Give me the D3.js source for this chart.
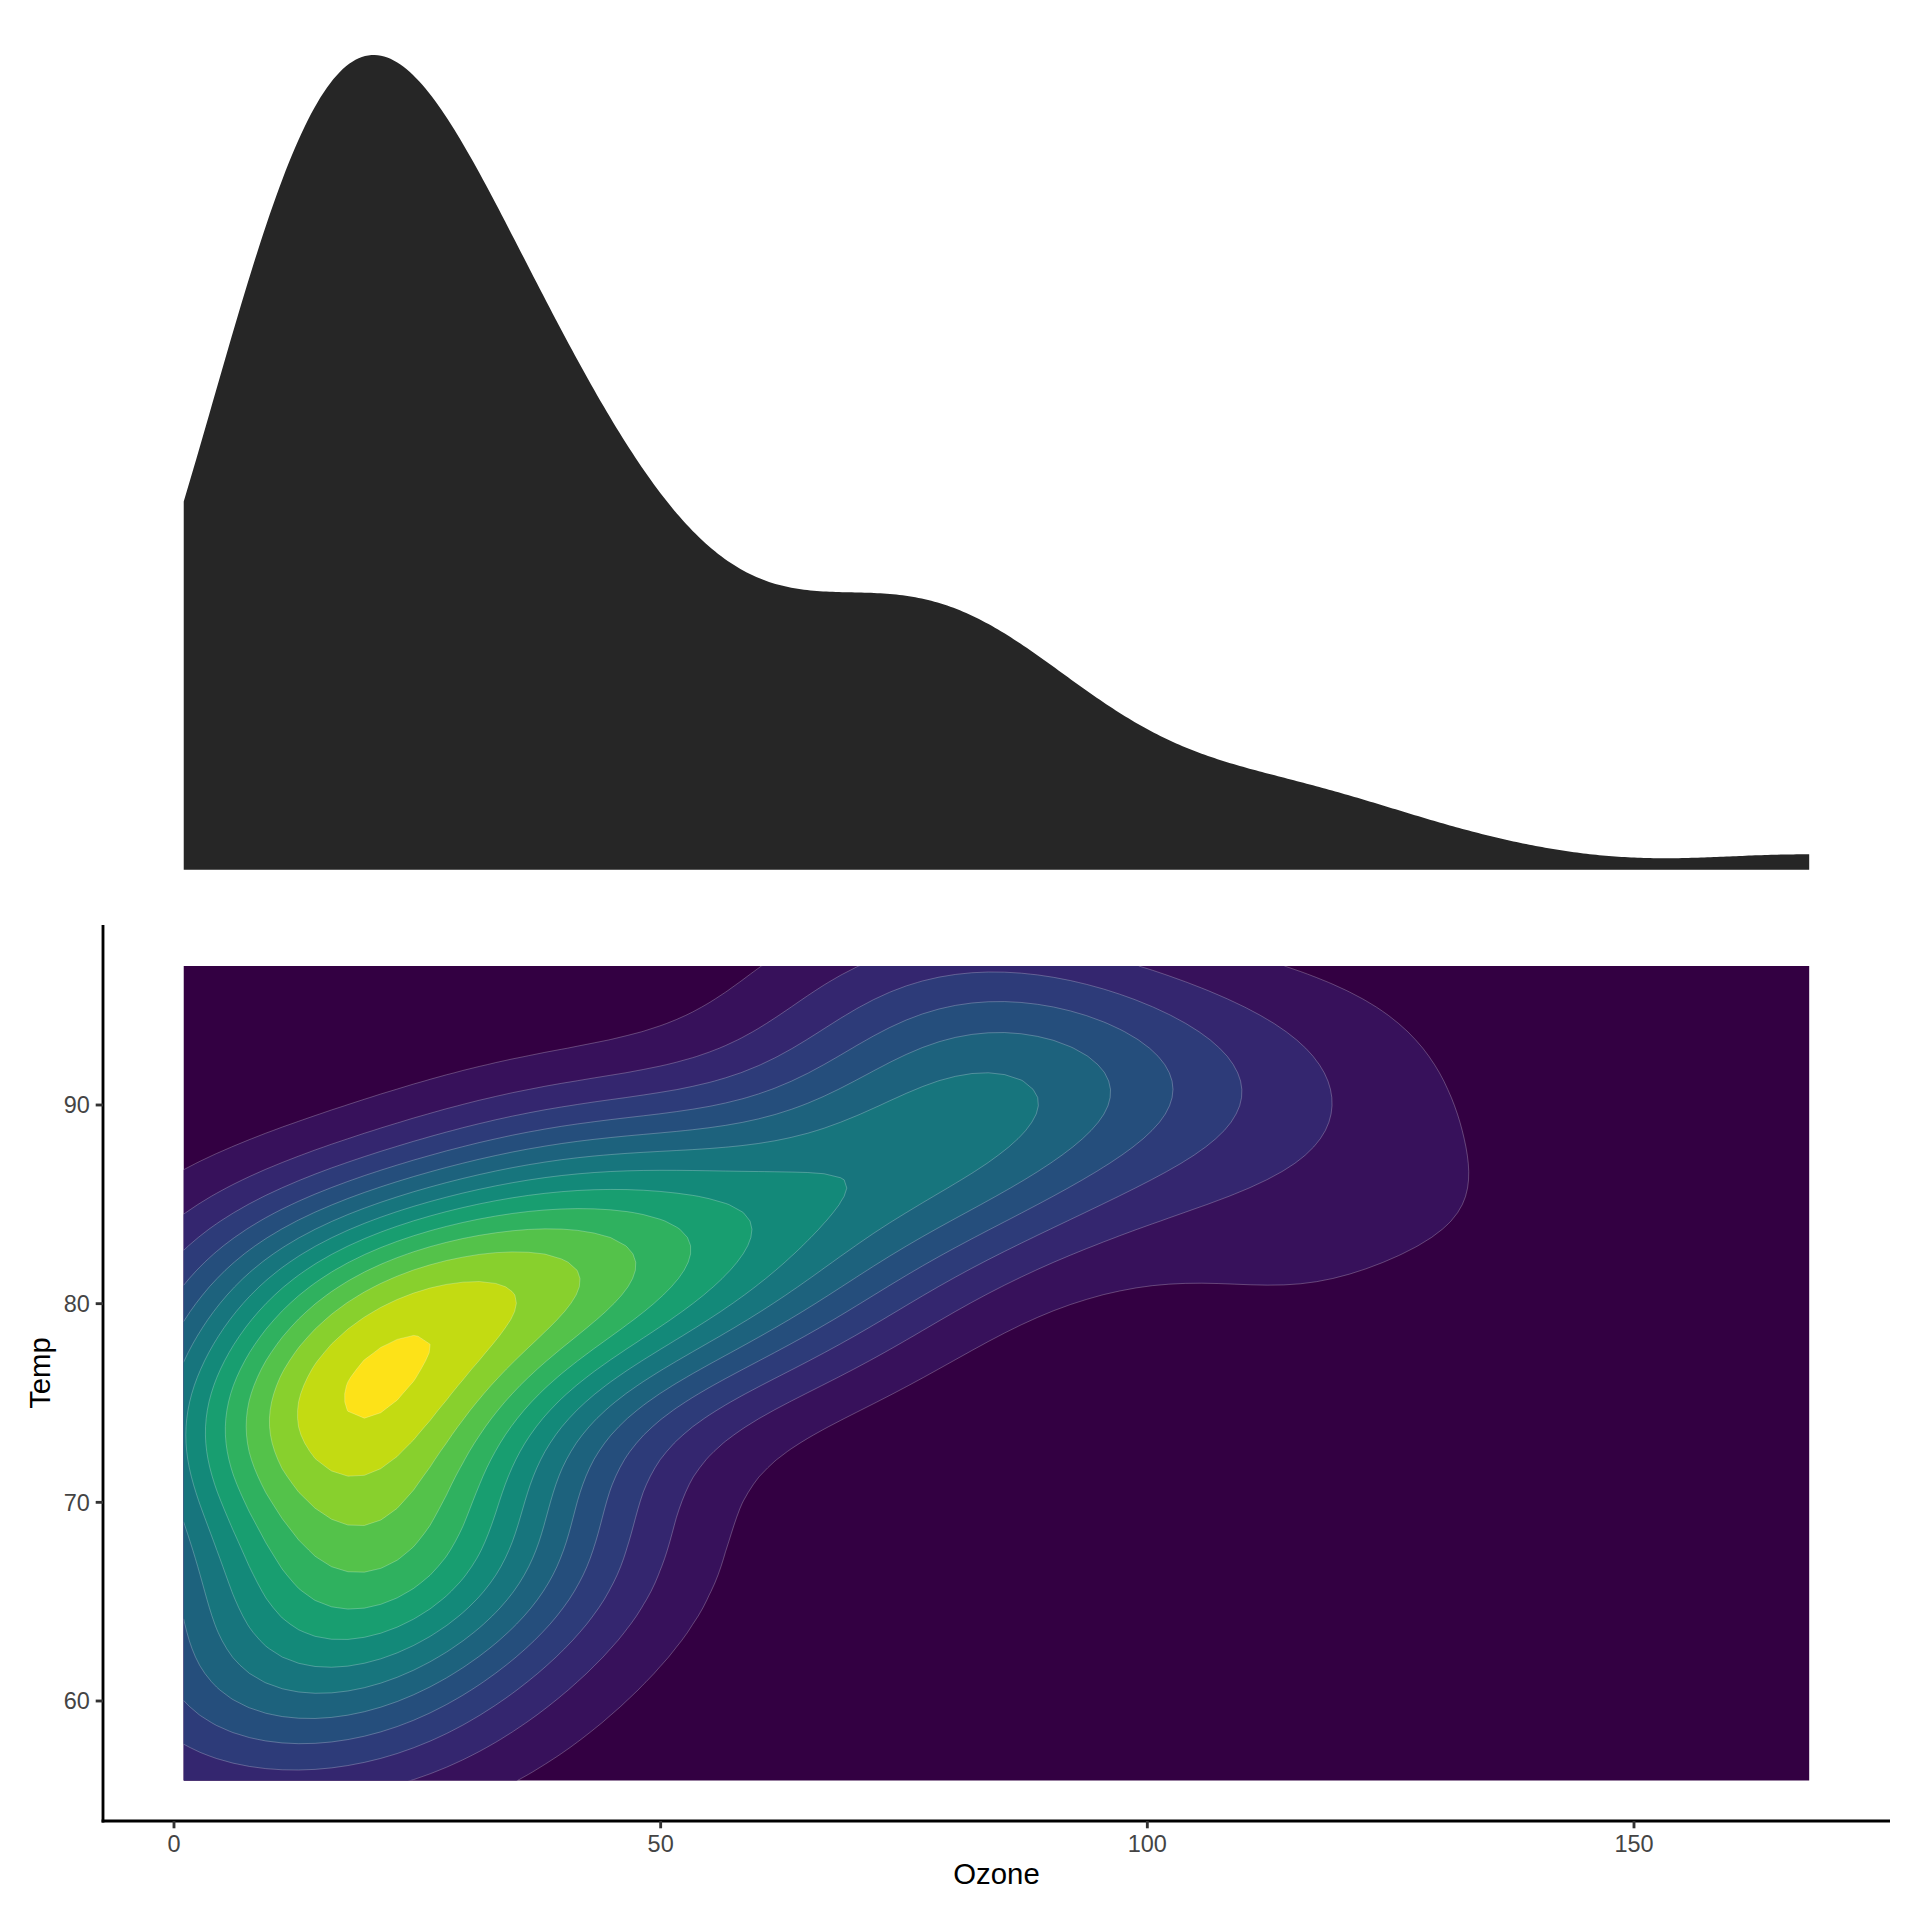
<!DOCTYPE html>
<html><head><meta charset="utf-8">
<script src="https://cdn.jsdelivr.net/npm/d3@7"></script>
<style>body{margin:0;background:#fff}svg{display:block}text{font-family:"Liberation Sans",Arial,Helvetica,sans-serif}</style>
</head><body><svg id="c" width="1920" height="1920"></svg>
<script>
// airquality: Ozone (null = NA) and Temp, 153 days
const ozone = [41,36,12,18,null,28,23,19,8,null,7,16,11,14,18,14,34,6,30,11,1,11,4,32,null,null,null,23,45,115,37,
null,null,null,null,null,null,29,null,71,39,null,null,23,null,null,21,37,20,12,13,null,null,null,null,null,null,null,null,null,null,
135,49,32,null,64,40,77,97,97,85,null,10,27,null,7,48,35,61,79,63,16,null,null,80,108,20,52,82,50,64,59,
39,9,16,78,35,66,122,89,110,null,null,44,28,65,null,22,59,23,31,44,21,9,null,45,168,73,null,76,118,84,85,
96,78,73,91,47,32,20,23,21,24,44,21,28,9,13,46,18,13,24,16,13,23,36,7,14,30,null,14,18,20];
const temp = [67,72,74,62,56,66,65,59,61,69,74,69,66,68,58,64,66,57,68,62,59,73,61,61,57,58,57,67,81,79,76,
78,74,67,84,85,79,82,87,90,87,93,92,82,80,79,77,72,65,73,76,77,76,76,76,75,78,73,80,77,83,
84,85,81,84,83,83,88,92,92,89,82,73,81,91,80,81,82,84,87,85,74,81,82,86,85,82,86,88,86,83,81,
81,81,82,86,85,87,89,90,90,92,86,86,82,80,79,77,79,76,78,78,77,72,75,79,81,86,88,97,94,96,94,
91,92,93,93,87,84,80,78,75,73,81,76,77,71,71,78,67,76,68,82,64,71,81,69,63,70,77,75,76,68];
const xTicks = [0, 50, 100, 150];
const yTicks = [60, 70, 80, 90];
const xLabel = "Ozone";
const yLabel = "Temp";

const svg = d3.select("#c");

// ---- stats helpers (as in R) ----
function q7(a, p){ const s=[...a].sort((u,v)=>u-v); const h=(s.length-1)*p, lo=Math.floor(h); const hi=Math.min(lo+1,s.length-1); return s[lo]+(h-lo)*(s[hi]-s[lo]); }
function iqr(a){ return q7(a,0.75)-q7(a,0.25); }
function bwNrd(a){ return 4*1.06*Math.min(d3.deviation(a), iqr(a)/1.34)*Math.pow(a.length,-0.2); }
function bwNrd0(a){ return 0.9*Math.min(d3.deviation(a), iqr(a)/1.34)*Math.pow(a.length,-0.2); }
function pretty(lo, up, ndiv){
  const h=1.5, h5=0.5+1.5*h; const min_n = Math.floor(ndiv/3);
  const dx=up-lo; let cell=Math.max(Math.abs(lo),Math.abs(up));
  let U = 1 + ((h5 >= 1.5*h+0.5) ? 1/(1+h) : 1.5/(1+h5)); U *= Math.max(1,ndiv)*Number.EPSILON;
  const small = dx < cell*U*3;
  if(small){ if(cell>10) cell = 9+cell/10; cell *= 0.75; if(min_n>1) cell/=min_n; }
  else { cell = dx; if(ndiv>1) cell/=ndiv; }
  const base = Math.pow(10, Math.floor(Math.log10(cell)));
  let unit = base, ns;
  if((ns=2*base)-cell < h*(cell-unit)){ unit=ns; if((ns=5*base)-cell < h5*(cell-unit)){ unit=ns; if((ns=10*base)-cell < h*(cell-unit)) unit=ns; } }
  let a = Math.floor(lo/unit+1e-7), b = Math.ceil(up/unit-1e-7);
  while(a*unit > lo+1e-10*unit) a--;
  while(b*unit < up-1e-10*unit) b++;
  let k = Math.floor(0.5+b-a);
  if(k<min_n){ k=min_n-k; if(a>=0){ b+=Math.floor(k/2); a-=Math.floor(k/2)+k%2; } else { a-=Math.floor(k/2); b+=Math.floor(k/2)+k%2; } }
  const out=[]; for(let i=a;i<=b;i++) out.push(i*unit); return out;
}
const dnorm = z => Math.exp(-0.5*z*z)/Math.sqrt(2*Math.PI);

// complete cases
const pts = ozone.map((o,i)=>[o,temp[i]]).filter(d=>d[0]!==null);
const px = pts.map(d=>d[0]), py = pts.map(d=>d[1]);
const xDom = d3.extent(ozone.filter(v=>v!==null));
const yDom = d3.extent(temp);

// ---- scales ----
const x = d3.scaleLinear().domain([0,150]).range([174, 1634]);
const y = d3.scaleLinear().domain([60,90]).range([1701, 1105]);

// ---- 2D density (kde2d, n = 100) ----
const N = 100;
const hx = bwNrd(px)/4, hy = bwNrd(py)/4;
const gx = d3.range(N).map(i=>xDom[0]+i*(xDom[1]-xDom[0])/(N-1));
const gy = d3.range(N).map(j=>yDom[0]+j*(yDom[1]-yDom[0])/(N-1));
const ax = gx.map(g=>px.map(v=>dnorm((g-v)/hx)));
const ay = gy.map(g=>py.map(v=>dnorm((g-v)/hy)));
const values = new Array(N*N);
for(let j=0;j<N;j++) for(let i=0;i<N;i++){
  let s=0; for(let k=0;k<px.length;k++) s+=ax[i][k]*ay[j][k];
  values[i+j*N] = s/(px.length*hx*hy);
}
const zr = d3.extent(values);
const breaks = pretty(zr[0], zr[1], 10);
const nLev = breaks.length-1;
// viridis palette, with the darker tone response seen in the reference image
const gam = 1.22;
const colors = d3.range(nLev).map(i=>{
  const c = d3.rgb(d3.interpolateViridis(nLev>1? i/(nLev-1) : 0));
  const f = v=>Math.round(255*Math.pow(v/255, gam));
  return d3.rgb(f(c.r), f(c.g), f(c.b)).formatHex();
});

const stepX = (xDom[1]-xDom[0])/(N-1), stepY = (yDom[1]-yDom[0])/(N-1);
const proj = d3.geoTransform({point(cx, cy){ this.stream.point(x(xDom[0]+(cx-0.5)*stepX), y(yDom[0]+(cy-0.5)*stepY)); }});
const path = d3.geoPath(proj);
const contours = d3.contours().size([N,N]).thresholds(breaks.slice(0,nLev))(values);

svg.append("clipPath").attr("id","panel").append("rect")
  .attr("x", x(xDom[0])).attr("y", y(yDom[1]))
  .attr("width", x(xDom[1])-x(xDom[0])).attr("height", y(yDom[0])-y(yDom[1]));
const g = svg.append("g").attr("clip-path","url(#panel)");
g.selectAll("path").data(contours).join("path")
  .attr("d", path)
  .attr("fill", (d,i)=>colors[i])
  .attr("stroke", "rgba(255,255,255,0.28)")
  .attr("stroke-width", 0.9);

// ---- marginal density of Ozone ----
const bw = bwNrd0(px);
const dx = d3.range(512).map(i=>xDom[0]+i*(xDom[1]-xDom[0])/511);
const dens = dx.map(v=>[v, d3.sum(px, o=>dnorm((v-o)/bw))/(px.length*bw)]);
const yTop = d3.scaleLinear().domain([0, d3.max(dens, d=>d[1])]).range([869.7, 55]);
svg.append("path")
  .attr("d", d3.area().x(d=>x(d[0])).y0(yTop(0)).y1(d=>yTop(d[1]))(dens))
  .attr("fill", "#262626");

// ---- axes ----
const axisG = svg.append("g");
axisG.append("line").attr("x1",103).attr("x2",103).attr("y1",925).attr("y2",1822.4)
  .attr("stroke","#000").attr("stroke-width",2.85);
axisG.append("line").attr("x1",101.6).attr("x2",1890).attr("y1",1821).attr("y2",1821)
  .attr("stroke","#000").attr("stroke-width",2.85);
xTicks.forEach(t=>{
  axisG.append("line").attr("x1",x(t)).attr("x2",x(t)).attr("y1",1821).attr("y2",1828.3)
    .attr("stroke","#333333").attr("stroke-width",2.85);
  axisG.append("text").attr("x",x(t)).attr("y",1852).attr("text-anchor","middle")
    .attr("font-size",23.47).attr("fill","#444444").text(t);
});
yTicks.forEach(t=>{
  axisG.append("line").attr("x1",95.7).attr("x2",103).attr("y1",y(t)).attr("y2",y(t))
    .attr("stroke","#333333").attr("stroke-width",2.85);
  axisG.append("text").attr("x",89.8).attr("y",y(t)+8.4).attr("text-anchor","end")
    .attr("font-size",23.47).attr("fill","#444444").text(t);
});
svg.append("text").attr("x",996.5).attr("y",1884).attr("text-anchor","middle")
  .attr("font-size",29.33).attr("fill","#000").text(xLabel);
svg.append("text").attr("transform","translate(50,1373) rotate(-90)").attr("text-anchor","middle")
  .attr("font-size",29.33).attr("fill","#000").text(yLabel);
</script></body></html>
